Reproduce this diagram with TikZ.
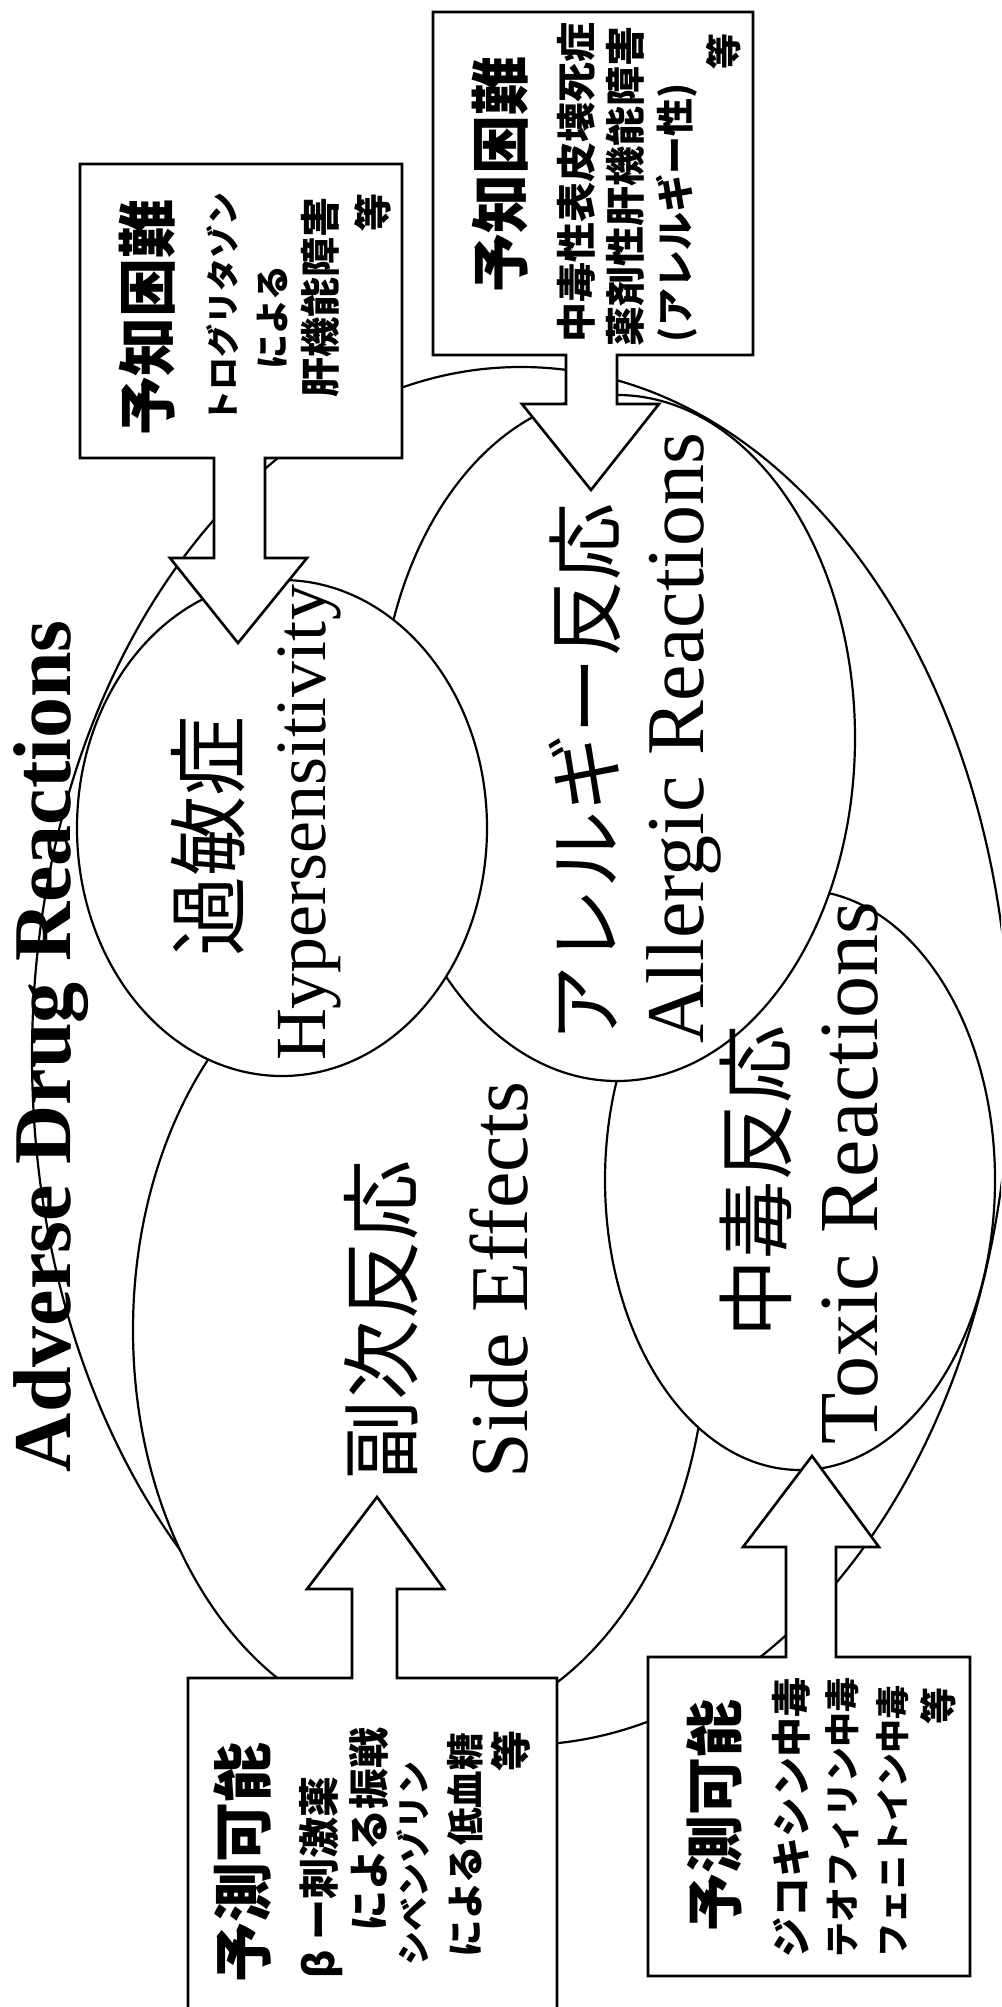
\documentclass[tikz,border=0pt]{standalone}
\usepackage{fontspec}
\setmainfont{Liberation Serif}
\newfontfamily\jp{Noto Sans CJK JP}
\usetikzlibrary{shapes.geometric}
\newcommand\fsz[1]{\fontsize{#1}{#1}\selectfont}
\begin{document}
\begin{tikzpicture}[x=1pt,y=-1pt,
  ell/.style={ellipse, draw, line width=2.2pt, fill=white, inner sep=0pt, outer sep=0pt},
  callout/.style={draw, line width=2.6pt, fill=white, line join=miter},
  lab/.style={inner sep=0pt, outer sep=0pt, rotate=90},
  bx/.style={lab, anchor=base west},
  bxr/.style={lab, anchor=base east},
  elab/.style={lab, anchor=base}]
\useasboundingbox (0,0) rectangle (1001,2007);
\clip (0,0) rectangle (1001,2007);
\fill[white] (0,0) rectangle (1001,2007);

% ellipses (back to front)
\node[ell, fill=none, minimum width=978pt, minimum height=1378pt] (outer) at (521,1056) {};
\node[ell, minimum width=574pt, minimum height=802pt] (side) at (420,1330) {};
\node[ell, minimum width=390pt, minimum height=580pt] (toxic) at (800,1180) {};
\node[ell, minimum width=476pt, minimum height=686pt] (allergic) at (617,738) {};
\node[ell, minimum width=410pt, minimum height=496pt] (hyper) at (282,828) {};

% callout boxes with arrows
\draw[callout] (80,164) -- (402,164) -- (402,458) -- (265,458) -- (265,558) -- (307,558) -- (238,643) -- (170,558) -- (214,558) -- (214,458) -- (80,458) -- cycle;
\draw[callout] (433,12) -- (753,12) -- (753,355) -- (617,355) -- (617,404) -- (659,404) -- (591,490) -- (522,404) -- (566,404) -- (566,355) -- (433,355) -- cycle;
\draw[callout] (188,1678) -- (352,1678) -- (352,1589) -- (307,1589) -- (377,1497) -- (444,1589) -- (397,1589) -- (397,1678) -- (557,1678) -- (557,2030) -- (188,2030) -- cycle;
\draw[callout] (648,1657) -- (786,1657) -- (786,1547) -- (743,1547) -- (812,1456) -- (879,1547) -- (836,1547) -- (836,1657) -- (970,1657) -- (970,1976) -- (648,1976) -- cycle;

% title
\node[bx, font=\bfseries\fsz{82}] (title) at (70,1472) {Adverse Drug Reactions};

% ellipse labels
\node[elab, font=\jp\fsz{80}] (hyperJ) at (238,836) {過敏症};
\node[elab, font=\fsz{72}] (hyperE) at (325,823) {Hypersensitivity};
\node[elab, font=\jp\fsz{77}] (allergicJ) at (614,773) {アレルギー反応};
\node[elab, font=\fsz{82}] (allergicE) at (703,738) {Allergic Reactions};
\node[elab, font=\jp\fsz{80}] (sideJ) at (411,1320) {副次反応};
\node[elab, font=\fsz{82}] (sideE) at (527,1280) {Side Effects};
\node[elab, font=\jp\fsz{78}] (toxicJ) at (785,1181) {中毒反応};
\node[elab, font=\fsz{84}] (toxicE) at (877,1173) {Toxic Reactions};

% box 1
\node[bx, font=\jp\bfseries\fsz{59}] (b1a) at (169,435) {予知困難};
\node[bx, font=\jp\bfseries\fsz{33}] (b1b) at (235,423) {トログリタゾン};
\node[bx, font=\jp\bfseries\fsz{35}] (b1c) at (285,369) {による};
\node[bx, font=\jp\bfseries\fsz{40}] (b1d) at (335,397) {肝機能障害};
\node[bxr, font=\jp\bfseries\fsz{38}] (b1e) at (387,193) {等};

% box 2
\node[bx, font=\jp\bfseries\fsz{59}] (b2a) at (522,292) {予知困難};
\node[bx, font=\jp\bfseries\fsz{40}] (b2b) at (591,342) {中毒性表皮壊死症};
\node[bx, font=\jp\bfseries\fsz{40}] (b2c) at (640,346) {薬剤性肝機能障害};
\node[bx, font=\jp\bfseries\fsz{38}] (b2d) at (689,342) {(アレルギー性)};
\node[bxr, font=\jp\bfseries\fsz{36}] (b2e) at (737,34) {等};

% box 3
\node[bx, font=\jp\bfseries\fsz{60}] (b3a) at (265,1982) {予測可能};
\node[bx, font=\jp\bfseries\fsz{41}] (b3b) at (334,1978) {β ー刺激薬};
\node[bx, font=\jp\bfseries\fsz{41}] (b3c) at (384,1931) {による振戦};
\node[bx, font=\jp\bfseries\fsz{34}] (b3d) at (426,1965) {シベンゾリン};
\node[bx, font=\jp\bfseries\fsz{37.5}] (b3e) at (479,1957) {による低血糖};
\node[bx, font=\jp\bfseries\fsz{41}] (b3f) at (526,1771) {等};

% box 4
\node[bx, font=\jp\bfseries\fsz{58}] (b4a) at (736,1931) {予測可能};
\node[bx, font=\jp\bfseries\fsz{40}] (b4b) at (806,1957) {ジコキシン中毒};
\node[bx, font=\jp\bfseries\fsz{35}] (b4c) at (855,1957) {テオフィリン中毒};
\node[bx, font=\jp\bfseries\fsz{34}] (b4d) at (905,1957) {フェニトイン中毒};
\node[bxr, font=\jp\bfseries\fsz{37}] (b4e) at (952,1687) {等};
\end{tikzpicture}
\end{document}
